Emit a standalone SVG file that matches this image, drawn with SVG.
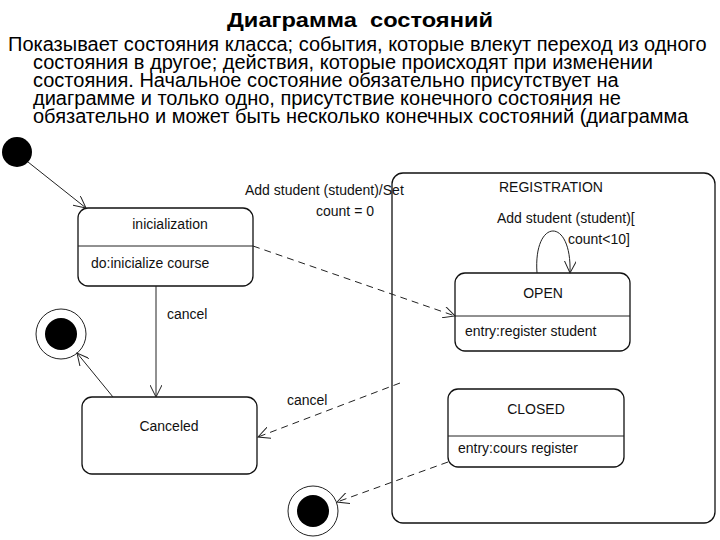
<svg xmlns="http://www.w3.org/2000/svg" width="720" height="540" viewBox="0 0 720 540">
<style>
.t{font-family:"Liberation Sans",Arial,sans-serif;fill:#000}
.title{font-size:20px;font-weight:bold;white-space:pre}
.body{font-size:20px}
.d{font-size:14px;fill:#111}
.box{fill:#fff;stroke:#111;stroke-width:1.3}
.ln{fill:none;stroke:#222;stroke-width:1}
.dash{fill:none;stroke:#222;stroke-width:1;stroke-dasharray:7,5}
</style>
<defs>
<marker id="ah" markerWidth="14" markerHeight="12" refX="12" refY="6" orient="auto" markerUnits="userSpaceOnUse">
<path d="M0,0 L12,6 L0,12" fill="none" stroke="#222" stroke-width="1"/>
</marker>
</defs>
<rect width="720" height="540" fill="#fff"/>
<g id="heading">
<text class="t title" x="227" y="27" textLength="266" lengthAdjust="spacingAndGlyphs">Диаграмма  состояний</text>
<text class="t body" x="8" y="51">Показывает состояния класса; события, которые влекут переход из одного</text>
<text class="t body" x="33" y="69">состояния в другое; действия, которые происходят при изменении</text>
<text class="t body" x="33" y="87">состояния. Начальное состояние обязательно присутствует на</text>
<text class="t body" x="33" y="105">диаграмме и только одно, присутствие конечного состояния не</text>
<text class="t body" x="33" y="123">обязательно и может быть несколько конечных состояний (диаграмма</text>
</g>
<g id="registration">
<rect class="box" x="392" y="173" width="323" height="350" rx="11"/>
<text class="t d" x="499" y="192">REGISTRATION</text>
</g>
<g id="initial">
<circle cx="17" cy="152" r="15" fill="#000"/>
</g>
<g id="inicialization">
<rect class="box" x="78" y="208" width="175" height="78" rx="10"/>
<line class="ln" x1="78" y1="246" x2="253" y2="246" stroke-width="1.3"/>
<text class="t d" x="170" y="229" text-anchor="middle">inicialization</text>
<text class="t d" x="91" y="268">do:inicialize course</text>
</g>
<g id="canceled">
<rect class="box" x="82" y="397" width="175" height="77" rx="10"/>
<text class="t d" x="169" y="431" text-anchor="middle">Canceled</text>
</g>
<g id="open">
<rect class="box" x="455" y="273" width="175" height="78" rx="10"/>
<line class="ln" x1="455" y1="316" x2="630" y2="316" stroke-width="1.3"/>
<text class="t d" x="543" y="298" text-anchor="middle">OPEN</text>
<text class="t d" x="465" y="336">entry:register student</text>
</g>
<g id="closed">
<rect class="box" x="448" y="389" width="176" height="78" rx="10"/>
<line class="ln" x1="448" y1="436" x2="624" y2="436" stroke-width="1.3"/>
<text class="t d" x="536" y="414" text-anchor="middle">CLOSED</text>
<text class="t d" x="458" y="453">entry:cours register</text>
</g>
<g id="final1">
<circle cx="61" cy="334" r="25" fill="#fff" stroke="#222" stroke-width="1"/>
<circle cx="61" cy="334" r="16" fill="#000"/>
</g>
<g id="final2">
<circle cx="313" cy="511" r="25" fill="#fff" stroke="#222" stroke-width="1"/>
<circle cx="313" cy="511" r="16" fill="#000"/>
</g>
<g id="connectors">
<line class="ln" x1="28" y1="162" x2="86" y2="208" marker-end="url(#ah)"/>
<line class="ln" x1="156" y1="286" x2="156" y2="397" marker-end="url(#ah)"/>
<text class="t d" x="167" y="319">cancel</text>
<line class="ln" x1="113" y1="397" x2="77" y2="353" marker-end="url(#ah)"/>
<line class="dash" x1="253" y1="246" x2="455" y2="316" marker-end="url(#ah)"/>
<text class="t d" x="245" y="195">Add student (student)/Set</text>
<text class="t d" x="316" y="216">count = 0</text>
<path class="ln" d="M537,273 C533,218 572,216 570,273" marker-end="url(#ah)"/>
<text class="t d" x="497" y="223">Add student (student)[</text>
<text class="t d" x="568" y="244">count&lt;10]</text>
<line class="dash" x1="400" y1="383" x2="258" y2="437" marker-end="url(#ah)"/>
<text class="t d" x="287" y="405">cancel</text>
<line class="dash" x1="448" y1="462" x2="337" y2="502" marker-end="url(#ah)"/>
</g>
</svg>
